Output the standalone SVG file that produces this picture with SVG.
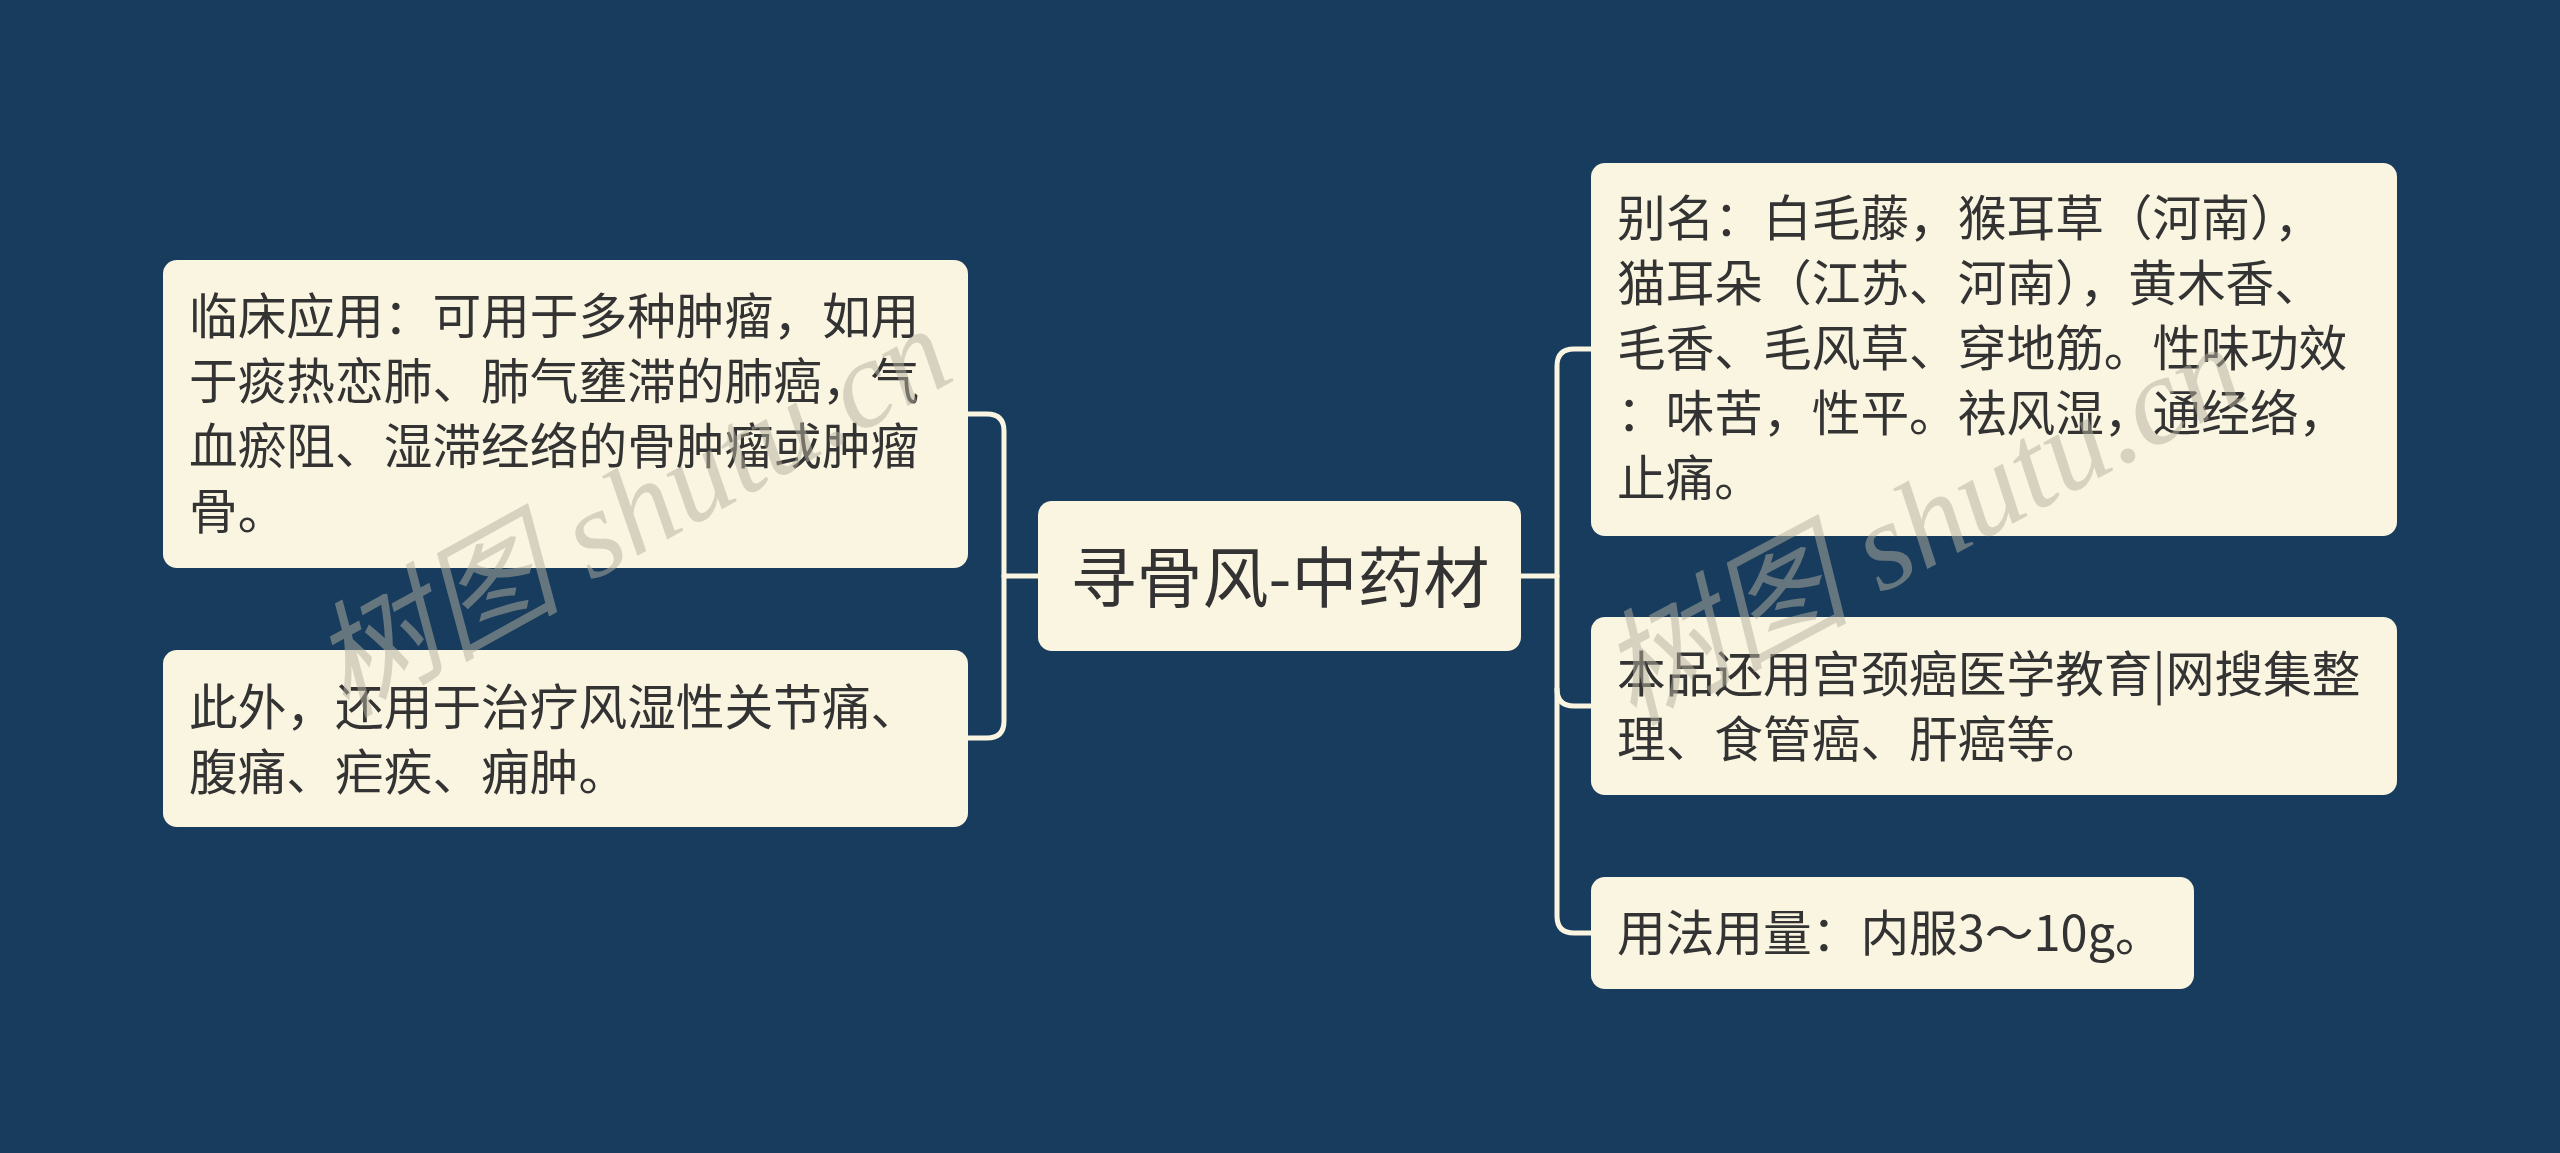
<svg xmlns="http://www.w3.org/2000/svg" width="2560" height="1153" viewBox="0 0 2560 1153">
<style>
.bg{fill:#173C5E}
.node{fill:#FAF5E1}
.t{font-family:"Noto Sans CJK SC","Noto Sans",sans-serif;font-size:48.7px;fill:#333333}
.tc{font-family:"Noto Sans CJK SC","Noto Sans",sans-serif;font-size:66px;fill:#333333}
.ln{fill:none;stroke:#FAF5E1;stroke-width:5;stroke-linecap:round}
.wm{font-family:"Liberation Serif","Noto Sans CJK SC",serif;font-style:italic;font-size:125px;fill:#B5B1A0;opacity:0.5}
</style>
<rect class="bg" x="0" y="0" width="2560" height="1153"/>
<g id="connectors">
<path class="ln" d="M1038,576 H1004"/>
<path class="ln" d="M968,414 H987 Q1004,414 1004,431 V721 Q1004,738 987,738 H968"/>
<path class="ln" d="M1521,576 H1557"/>
<path class="ln" d="M1591,349 H1574 Q1557,349 1557,366 V916 Q1557,933 1574,933 H1591"/>
<path class="ln" d="M1557,689 Q1557,706 1574,706 H1591"/>
</g>
<g id="center">
<rect class="node" x="1038" y="501" width="483" height="150" rx="14"/>
<text class="tc" x="1280" y="602" text-anchor="middle">寻骨风-中药材</text>
</g>
<g id="left1">
<rect class="node" x="163" y="260" width="805" height="308" rx="14"/>
<text class="t" x="189" y="334">临床应用：可用于多种肿瘤，如用</text>
<text class="t" x="189" y="399">于痰热恋肺、肺气壅滞的肺癌，气</text>
<text class="t" x="189" y="464">血瘀阻、湿滞经络的骨肿瘤或肿瘤</text>
<text class="t" x="189" y="529">骨。</text>
</g>
<g id="left2">
<rect class="node" x="163" y="650" width="805" height="177" rx="14"/>
<text class="t" x="189" y="725">此外，还用于治疗风湿性关节痛、</text>
<text class="t" x="189" y="790">腹痛、疟疾、痈肿。</text>
</g>
<g id="right1">
<rect class="node" x="1591" y="163" width="806" height="373" rx="14"/>
<text class="t" x="1617" y="236">别名：白毛藤，猴耳草（河南），</text>
<text class="t" x="1617" y="301">猫耳朵（江苏、河南），黄木香、</text>
<text class="t" x="1617" y="366">毛香、毛风草、穿地筋。性味功效</text>
<text class="t" x="1617" y="431">：味苦，性平。祛风湿，通经络，</text>
<text class="t" x="1617" y="496">止痛。</text>
</g>
<g id="right2">
<rect class="node" x="1591" y="617" width="806" height="178" rx="14"/>
<text class="t" x="1617" y="692">本品还用宫颈癌医学教育|网搜集整</text>
<text class="t" x="1617" y="757">理、食管癌、肝癌等。</text>
</g>
<g id="right3">
<rect class="node" x="1591" y="877" width="603" height="112" rx="14"/>
<text class="t" x="1617" y="951">用法用量：内服3～10g。</text>
</g>
<g id="watermark">
<text class="wm" x="0" y="0" transform="translate(345,718) rotate(-29)">树图 shutu.cn</text>
<text class="wm" x="0" y="0" transform="translate(1632,726) rotate(-28)">树图 shutu.cn</text>
</g>
</svg>
